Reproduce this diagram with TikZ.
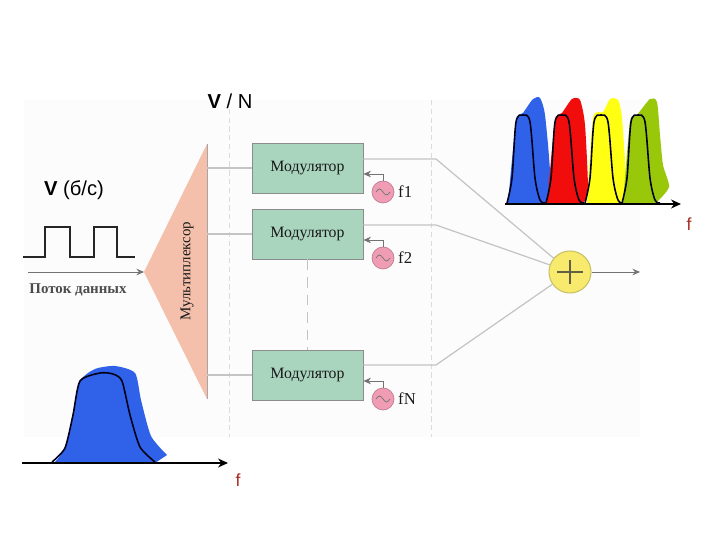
\documentclass[tikz,border=0pt]{standalone}
\usepackage{fontspec}
\setmainfont{Liberation Serif}
\newfontfamily\labelfont{Liberation Sans}
\usetikzlibrary{calc,arrows.meta}
\definecolor{modgreen}{HTML}{A9D5BE}
\definecolor{muxpink}{HTML}{F4BFAB}
\definecolor{oscpink}{HTML}{F09CB4}
\definecolor{sumyellow}{HTML}{F8EA6C}
\definecolor{wirgrey}{HTML}{C4C4C4}
\definecolor{specblue}{HTML}{2F62E8}
\definecolor{specred}{HTML}{F20D0D}
\definecolor{specyellow}{HTML}{FFFF14}
\definecolor{specgreen}{HTML}{99C80A}
\definecolor{fred}{HTML}{A82A1E}
\tikzset{
  modulator/.style={
    draw=black!45,
    rectangle,
    minimum width=2.22cm,
    minimum height=1cm,
    fill=modgreen,
    line width=0.5pt,
    font=\fontsize{9}{10}\selectfont,
    text=black!90,
  },
  osc/.style={
    draw=oscpink!80!black,
    circle,
    minimum size=0.44cm,
    inner sep=0pt,
    fill=oscpink,
    line width=0.4pt,
  },
  adder/.style={
    draw=yellow!50!gray,
    circle,
    minimum size=0.84cm,
    inner sep=0pt,
    fill=sumyellow,
    line width=0.6pt,
  },
  wire/.style={draw=wirgrey, line width=0.7pt},
  signal/.style={draw=black!55, line width=0.4pt, -{Stealth[length=1.5mm,width=1.3mm]}},
  axis/.style={draw=black, line width=0.7pt, -{Stealth[length=2mm,width=1.8mm]}},
  guide/.style={draw=black!14, line width=0.5pt, densely dashed},
  outline/.style={draw=black!90!blue, line width=0.9pt},
  varlabel/.style={font=\labelfont\fontsize{11.5}{13}\selectfont},
  flabel/.style={font=\labelfont\fontsize{10}{12}\selectfont, text=fred},
  osclabel/.style={font=\fontsize{9.5}{10}\selectfont, text=black!90, inner sep=2pt},
}
\begin{document}
\begin{tikzpicture}[x=0.02cm,y=-0.02cm]
  \useasboundingbox (0,0) rectangle (720,540);
  \fill[black!1] (24,100) rectangle (640,437);
  \draw[guide] (229,100) -- (229,437);
  \draw[guide] (431,100) -- (431,437);

  % multiplexer
  \coordinate (apex) at (144,272);
  \coordinate (muxtop) at (207,144);
  \coordinate (muxbot) at (207,399);
  \fill[muxpink] (apex) -- (muxtop) -- (muxbot) -- cycle;
  \draw[black!35, line width=0.5pt] (muxtop) -- (muxbot);
  \node[rotate=90, font=\fontsize{8.5}{10}\selectfont, text=black!90] (mux) at (187,271) {Мультиплексор};

  % modulators, oscillators, adder
  \node[adder] (S) at (570,272) {};
  \draw[black!70!yellow, line width=0.6pt] ($(S.center)+(-13,0)$) -- ($(S.center)+(13,0)$);
  \draw[black!70!yellow, line width=0.6pt] ($(S.center)+(0,-12)$) -- ($(S.center)+(0,12)$);
  \foreach \j/\y/\t/\b in {1/168/f1/159, 2/234/f2/225, N/375/fN/365} {
    \node[modulator] (M\j) at (307.5,\y) {Модулятор};
    \node[osc] (O\j) at (383,\y+24) {};
    \node[osclabel, right] (L\j) at (O\j.east) {\t};
    \begin{scope}[shift={(O\j)}]
      \draw[black!55, line width=0.4pt] (-7,0) sin (-3.5,-3) cos (0,0) sin (3.5,3) cos (7,0);
    \end{scope}
    \coordinate (in\j) at (M\j.east |- 0,\y+6);
    \draw[signal] (O\j.north) |- (in\j);
    \coordinate (bend\j) at (436,\b);
    \draw[wire] (bend\j -| M\j.east) -- (bend\j) -- (S);
    \draw[wire] (M\j.west) -- (M\j.west -| muxtop);
  }
  \draw[wire, dashed, dash pattern=on 6pt off 4pt] (M2.south) -- (MN.north);

  % output and data stream
  \coordinate (out) at (640,272);
  \draw[signal] (S) -- (out);
  \coordinate (data) at (28,272);
  \draw[signal] (data) -- (apex);
  \node[font=\bfseries\fontsize{8.5}{10}\selectfont, text=black!70] (stream) at (78,290) {Поток данных};
  \draw[black!85, line width=0.8pt] (23,257) -- (45,257) -- (45,227) -- (70,227) -- (70,257)
    -- (94,257) -- (94,227) -- (117,227) -- (117,257) -- (135,257);

  % text labels
  \node[varlabel] (vbit) at (74,190) {\textbf{V} (б/с)};
  \node[varlabel] (vn) at (230,101) {\textbf{V} / N};
  \node[flabel] (f1) at (238,480) {f};
  \node[flabel] (f2) at (689,224) {f};

  % lower spectrum
  \fill[specblue] plot[smooth, tension=0.4] coordinates {(54,463) (65,448) (73,415) (80,381) (95,369) (115,366) (135,373) (141,400) (151,436) (167,455)} -- (155,463) -- cycle;
  \draw[outline] plot[smooth, tension=0.4] coordinates {(52,462) (65,448) (73,415) (80,381) (100,373) (113,374) (122,381) (130,415) (140,447) (155,462)};
  \coordinate (xa) at (22,463);
  \coordinate (xb) at (228,463);
  \draw[axis] (xa) -- (xb);

  % upper spectrum
  \fill[specblue] plot[smooth, tension=0.4] coordinates {(508,203) (516,122) (523,113) (533,99) (540,98) (545,115) (550,172) (547,203)} -- cycle;
  \fill[specred] plot[smooth, tension=0.4] coordinates {(547,203) (555,122) (562,113) (572,99) (580,100) (585,125) (588,192) (582,203)} -- cycle;
  \fill[specyellow] plot[smooth, tension=0.4] coordinates {(587,203) (593,118) (603,112) (610,99) (618,100) (622,118) (626,185) (620,203)} -- cycle;
  \fill[specgreen] plot[smooth, tension=0.4] coordinates {(623,203) (630,122) (637,115) (650,99) (657,102) (660,135) (663,165) (669,187) (656,203)} -- cycle;
  \foreach \x in {0,39,78,115} {
    \draw[outline, xshift=\x*0.02cm] plot[smooth, tension=0.5] coordinates {(507,203) (512,178) (516,122) (523,115) (530,122) (535,178) (540,200) (545,203)};
  }
  \coordinate (ya) at (505,204);
  \coordinate (yb) at (681,204);
  \draw[axis] (ya) -- (yb);
\end{tikzpicture}
\end{document}
